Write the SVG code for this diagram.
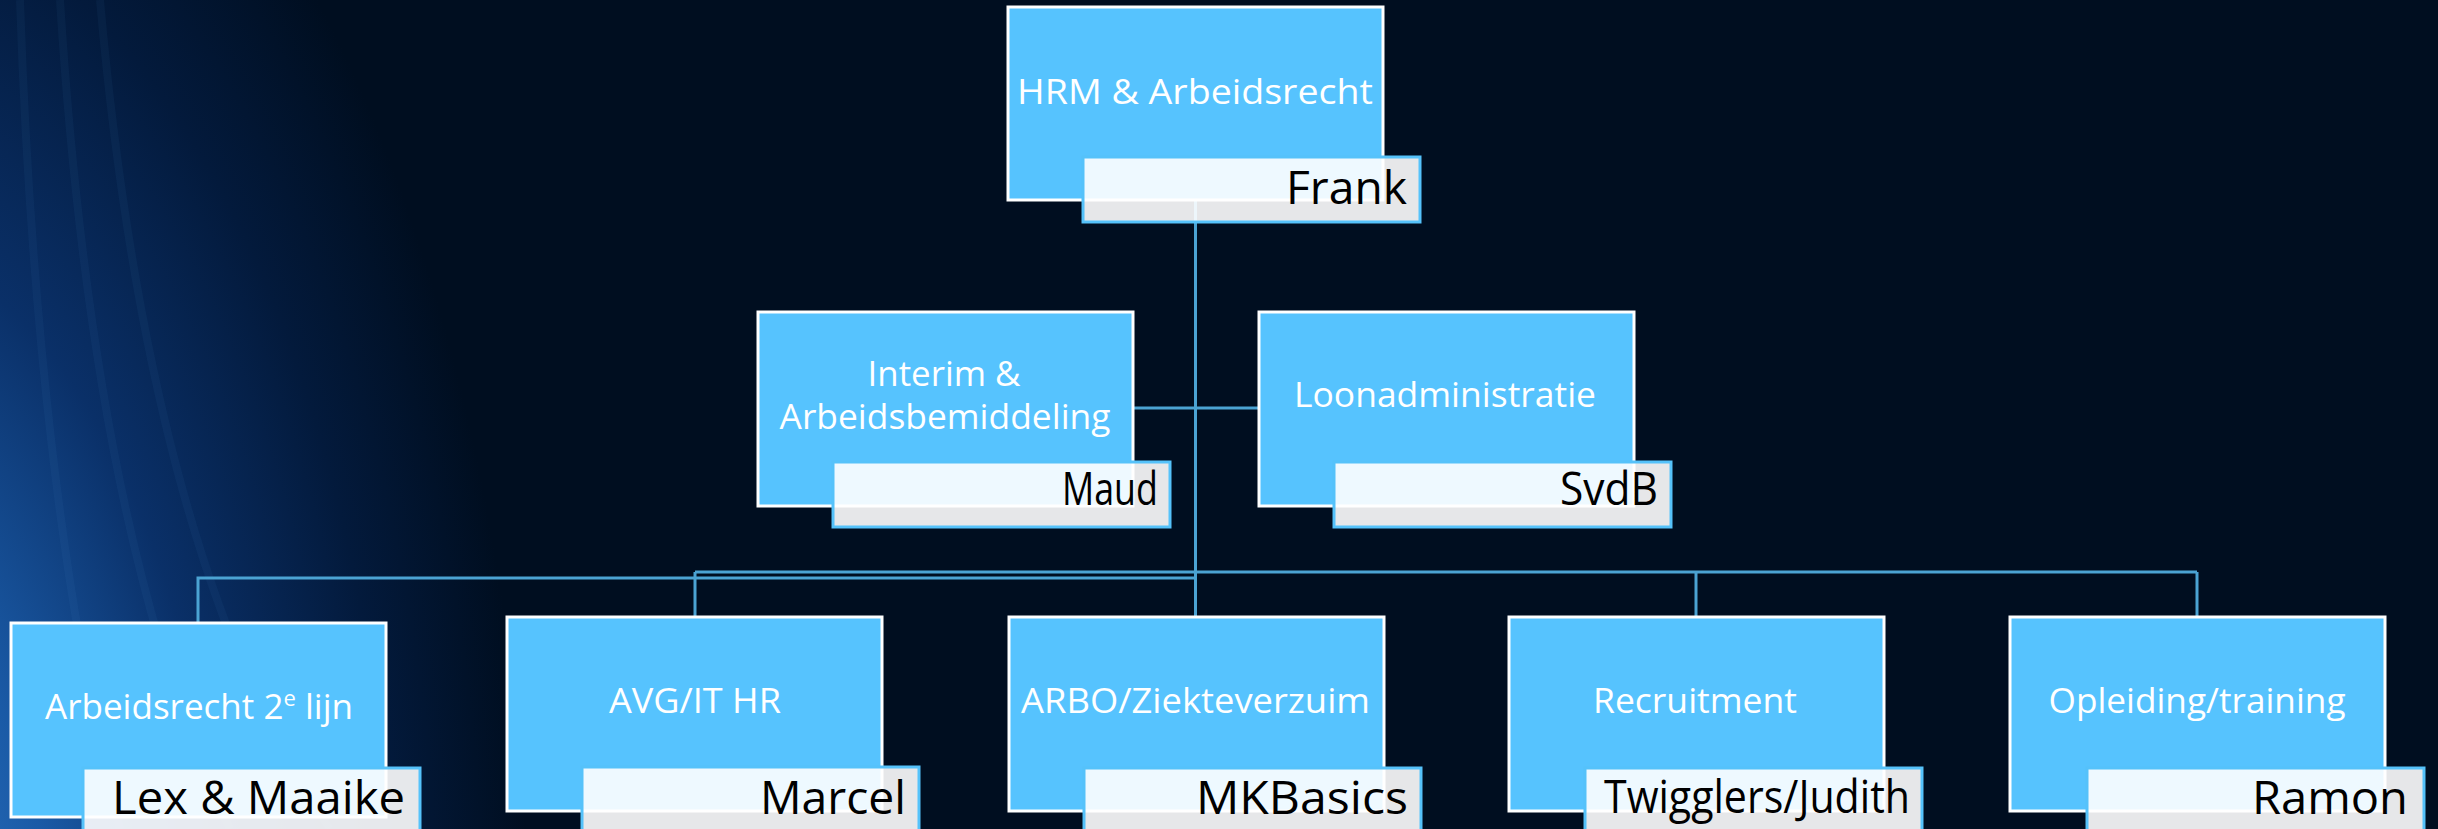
<svg xmlns="http://www.w3.org/2000/svg" width="2438" height="829" viewBox="0 0 2438 829">
<defs>
<radialGradient id="bg" cx="0" cy="0" r="1" gradientUnits="userSpaceOnUse" gradientTransform="translate(-150 980) scale(680 1350)">
<stop offset="0" stop-color="#3580cf"/>
<stop offset="0.3" stop-color="#1a5aa6"/>
<stop offset="0.55" stop-color="#0a3068"/>
<stop offset="0.8" stop-color="#031a3c"/>
<stop offset="1" stop-color="#000E20"/>
</radialGradient>
<style>
.box{fill:#56C3FE;stroke:#FFFFFF;stroke-width:3}
.lab{fill:#FFFFFF;fill-opacity:0.9;stroke:#55C2FA;stroke-width:3}
.title{font-family:"Open Sans","Liberation Sans",sans-serif;fill:#FFFFFF;text-anchor:middle;font-size:35px}
.name{font-family:"Open Sans","Liberation Sans",sans-serif;fill:#000000;text-anchor:end;font-size:46px}
.conn{fill:none;stroke:#4BA3D3;stroke-width:3}
.streak{fill:none;stroke:#6aa8e8;stroke-opacity:0.05;stroke-width:8}
</style>
</defs>
<rect x="0" y="0" width="2438" height="829" fill="#000E20"/>
<rect x="0" y="0" width="2438" height="829" fill="url(#bg)"/>
<g id="streaks">
<path class="streak" d="M20,0 C30,300 60,600 120,829"/>
<path class="streak" d="M60,0 C80,320 130,620 230,829"/>
<path class="streak" d="M100,0 C130,340 200,640 330,829"/>
</g>
<g id="connectors">
<line class="conn" x1="1195.5" y1="200" x2="1195.5" y2="617"/>
<line class="conn" x1="1132" y1="408" x2="1259" y2="408"/>
<polyline class="conn" points="198,623 198,578 1195.5,578"/>
<line class="conn" x1="695" y1="572" x2="2197" y2="572"/>
<line class="conn" x1="695" y1="572" x2="695" y2="617"/>
<line class="conn" x1="1696" y1="572" x2="1696" y2="617"/>
<line class="conn" x1="2197" y1="572" x2="2197" y2="617"/>
</g>
<g id="hrm">
<rect class="box" x="1008" y="7" width="375" height="193"/>
<text class="title" x="1195" y="104" font-size="39" textLength="356" lengthAdjust="spacingAndGlyphs">HRM &amp; Arbeidsrecht</text>
<rect class="lab" x="1083" y="157" width="337" height="65"/>
<text class="name" x="1407" y="204" font-size="48" textLength="121" lengthAdjust="spacingAndGlyphs">Frank</text>
</g>
<g id="interim">
<rect class="box" x="758" y="312" width="375" height="194"/>
<text class="title" x="944" y="386" textLength="153" lengthAdjust="spacingAndGlyphs">Interim &amp;</text>
<text class="title" x="945" y="429" textLength="331" lengthAdjust="spacingAndGlyphs">Arbeidsbemiddeling</text>
<rect class="lab" x="833" y="462" width="337" height="65"/>
<text class="name" x="1158" y="505" font-size="35" textLength="96" lengthAdjust="spacingAndGlyphs">Maud</text>
</g>
<g id="loon">
<rect class="box" x="1259" y="312" width="375" height="194"/>
<text class="title" x="1445" y="407" textLength="302" lengthAdjust="spacingAndGlyphs">Loonadministratie</text>
<rect class="lab" x="1334" y="462" width="337" height="65"/>
<text class="name" x="1658" y="505" font-size="35" textLength="98" lengthAdjust="spacingAndGlyphs">SvdB</text>
</g>
<g id="arbeidsrecht">
<rect class="box" x="11" y="623" width="375" height="194"/>
<text class="title" x="199" y="719" textLength="308" lengthAdjust="spacingAndGlyphs">Arbeidsrecht 2<tspan font-size="22" dy="-13">e</tspan><tspan dy="13"> lijn</tspan></text>
<rect class="lab" x="83" y="768" width="337" height="65"/>
<text class="name" x="405" y="814" textLength="293" lengthAdjust="spacingAndGlyphs">Lex &amp; Maaike</text>
</g>
<g id="avg">
<rect class="box" x="507" y="617" width="375" height="194"/>
<text class="title" x="695" y="713" textLength="172" lengthAdjust="spacingAndGlyphs">AVG/IT HR</text>
<rect class="lab" x="582" y="767" width="337" height="65"/>
<text class="name" x="906" y="814" textLength="146" lengthAdjust="spacingAndGlyphs">Marcel</text>
</g>
<g id="arbo">
<rect class="box" x="1009" y="617" width="375" height="194"/>
<text class="title" x="1195.5" y="713" textLength="349" lengthAdjust="spacingAndGlyphs">ARBO/Ziekteverzuim</text>
<rect class="lab" x="1084" y="768" width="337" height="65"/>
<text class="name" x="1408" y="814" textLength="212" lengthAdjust="spacingAndGlyphs">MKBasics</text>
</g>
<g id="recruitment">
<rect class="box" x="1509" y="617" width="375" height="194"/>
<text class="title" x="1695" y="713" textLength="204" lengthAdjust="spacingAndGlyphs">Recruitment</text>
<rect class="lab" x="1585" y="768" width="337" height="65"/>
<text class="name" x="1910" y="813" font-size="42" textLength="306" lengthAdjust="spacingAndGlyphs">Twigglers/Judith</text>
</g>
<g id="opleiding">
<rect class="box" x="2010" y="617" width="375" height="194"/>
<text class="title" x="2197" y="713" textLength="297" lengthAdjust="spacingAndGlyphs">Opleiding/training</text>
<rect class="lab" x="2087" y="768" width="337" height="65"/>
<text class="name" x="2408" y="814" textLength="156" lengthAdjust="spacingAndGlyphs">Ramon</text>
</g>
</svg>
